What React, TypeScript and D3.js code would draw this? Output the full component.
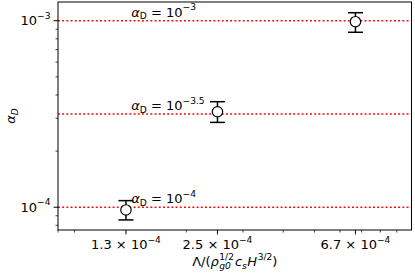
import * as d3 from 'd3';

// figure geometry (px)
const W = 415;
const H = 277;
const plot = { left: 58, top: 2, right: 411.5, bottom: 230 };
const FONT = "'DejaVu Sans', sans-serif";
const FS = 13;

// axis limits
const xDomain = [8e-5, 1e-3];
const yDomain = [7.55e-5, 1.26e-3];

// ticks
const xTickValues = [1.3e-4, 2.5e-4, 6.7e-4];
const xTickMantissa = ['1.3', '2.5', '6.7'];
const xTickExp = ['−4', '−4', '−4'];
const yTickValues = [1e-4, 1e-3];
const yTickExp = ['−4', '−3'];

// reference alpha levels (dotted red lines)
const alphaLevels = [1e-3, Math.pow(10, -3.5), 1e-4];
const alphaExp = ['−3', '−3.5', '−4'];
const alphaLabelX = 1.35e-4;

// measured points with error bars
const pointX = [1.3e-4, 2.5e-4, 6.7e-4];
const pointY = [9.67e-5, 3.25e-4, 9.88e-4];
const errLow = [8.55e-5, 2.85e-4, 8.67e-4];
const errHigh = [1.085e-4, 3.68e-4, 1.104e-3];

export default function App() {
    const x = d3.scaleLog().domain(xDomain).range([plot.left, plot.right]);
    const y = d3.scaleLog().domain(yDomain).range([plot.bottom, plot.top]);

    const isDecade = (v: number) => Math.abs(Math.log10(v) - Math.round(Math.log10(v))) < 1e-6;
    const xMinor = x.ticks(20).filter(v => !isDecade(v));
    const yMinor = y.ticks(20).filter(v => !isDecade(v));

    const supShift = 6.5;
    const subShift = 2.5;
    const sub = FS * 0.7;

    return (
        <div style={{ position: 'fixed', left: 0, top: 0 }}>
            <svg width={W} height={H} style={{ display: 'block', background: '#fff' }} fontFamily={FONT}>
                {/* red dotted alpha levels */}
                {alphaLevels.map((a, i) => (
                    <line key={'al' + i} x1={plot.left} x2={plot.right} y1={y(a)} y2={y(a)}
                        stroke="#ff0000" strokeWidth={1.6} strokeDasharray="1.9,2.3" />
                ))}

                {/* alpha labels */}
                {alphaLevels.map((a, i) => (
                    <text key={'at' + i} x={x(alphaLabelX)} y={y(a * 1.05)} fontSize={FS} fill="#000">
                        <tspan fontStyle="italic">α</tspan>
                        <tspan fontSize={sub} dy={subShift}>D</tspan>
                        <tspan dy={-subShift}>{' = 10'}</tspan>
                        <tspan fontSize={sub} dy={-supShift}>{alphaExp[i]}</tspan>
                    </text>
                ))}

                {/* error bars */}
                {pointX.map((px, i) => {
                    const cx = x(px);
                    return (
                        <g key={'eb' + i} stroke="#000" strokeWidth={1.5}>
                            <line x1={cx} x2={cx} y1={y(errLow[i])} y2={y(errHigh[i])} />
                            <line x1={cx - 7.5} x2={cx + 7.5} y1={y(errLow[i])} y2={y(errLow[i])} />
                            <line x1={cx - 7.5} x2={cx + 7.5} y1={y(errHigh[i])} y2={y(errHigh[i])} />
                        </g>
                    );
                })}

                {/* markers */}
                {pointX.map((px, i) => (
                    <circle key={'pt' + i} cx={x(px)} cy={y(pointY[i])} r={5.2}
                        fill="#fff" stroke="#000" strokeWidth={1.2} />
                ))}

                {/* frame */}
                <rect x={plot.left} y={plot.top} width={plot.right - plot.left} height={plot.bottom - plot.top}
                    fill="none" stroke="#000" strokeWidth={1} />

                {/* x ticks */}
                {xMinor.map((v, i) => (
                    <line key={'xm' + i} x1={x(v)} x2={x(v)} y1={plot.bottom} y2={plot.bottom + 2.5}
                        stroke="#000" strokeWidth={0.75} />
                ))}
                {xTickValues.map((v, i) => (
                    <g key={'xt' + i}>
                        <line x1={x(v)} x2={x(v)} y1={plot.bottom} y2={plot.bottom + 4.4} stroke="#000" strokeWidth={1} />
                        <text x={x(v)} y={249} textAnchor="middle" fontSize={FS} fill="#000">
                            {xTickMantissa[i] + ' × 10'}
                            <tspan fontSize={sub} dy={-supShift}>{xTickExp[i]}</tspan>
                        </text>
                    </g>
                ))}

                {/* y ticks */}
                {yMinor.map((v, i) => (
                    <line key={'ym' + i} x1={plot.left - 2.5} x2={plot.left} y1={y(v)} y2={y(v)}
                        stroke="#000" strokeWidth={0.75} />
                ))}
                {yTickValues.map((v, i) => (
                    <g key={'yt' + i}>
                        <line x1={plot.left - 4.4} x2={plot.left} y1={y(v)} y2={y(v)} stroke="#000" strokeWidth={1} />
                        <text x={plot.left - 7.5} y={y(v) + 4.7} textAnchor="end" fontSize={FS} fill="#000">
                            10
                            <tspan fontSize={sub} dy={-supShift}>{yTickExp[i]}</tspan>
                        </text>
                    </g>
                ))}

                {/* axis labels */}
                <text transform={`translate(15,${(plot.top + plot.bottom) / 2}) rotate(-90)`}
                    textAnchor="middle" fontSize={FS} fill="#000">
                    <tspan fontStyle="italic">α</tspan>
                    <tspan fontStyle="italic" fontSize={sub} dy={subShift}>D</tspan>
                </text>

                <text x={(plot.left + plot.right) / 2} y={266} textAnchor="middle" fontSize={FS} fill="#000">
                    <tspan>Λ/(</tspan>
                    <tspan fontStyle="italic">ρ</tspan>
                    <tspan fontStyle="italic" fontSize={sub} dx={0.5} dy={3}>g0</tspan>
                    <tspan fontSize={sub} dx={-11.5} dy={-9.5}>1/2</tspan>
                    <tspan fontStyle="italic" dx={1} dy={6.5}>c</tspan>
                    <tspan fontStyle="italic" fontSize={sub} dy={2.5}>s</tspan>
                    <tspan fontStyle="italic" dx={0.5} dy={-2.5}>H</tspan>
                    <tspan fontSize={sub} dx={0.5} dy={-supShift}>3/2</tspan>
                    <tspan dy={supShift}>)</tspan>
                </text>
            </svg>
        </div>
    );
}
